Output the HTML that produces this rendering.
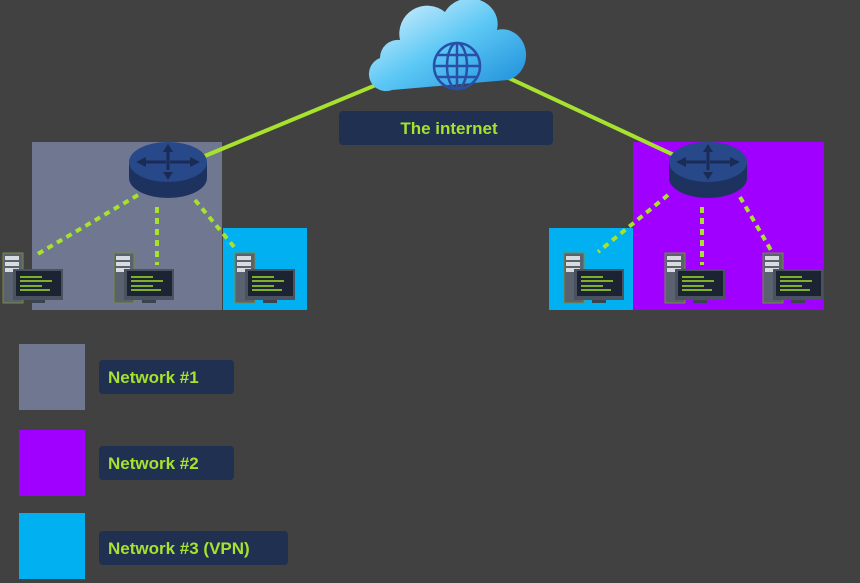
<!DOCTYPE html>
<html><head><style>body{margin:0;background:#414141}svg{display:block}</style></head><body>
<svg width="860" height="583" viewBox="0 0 860 583" xmlns="http://www.w3.org/2000/svg" font-family="Liberation Sans, sans-serif">
<defs>
<linearGradient id="cl" x1="0" y1="0" x2="1" y2="1"><stop offset="0" stop-color="#e8f6ff"/><stop offset="0.5" stop-color="#5cc8f5"/><stop offset="1" stop-color="#1a8ad8"/></linearGradient>
<g id="pc">
<rect x="0" y="0" width="20" height="50" fill="#5a6270" stroke="#7a8a40" stroke-width="1"/>
<rect x="2" y="3" width="14" height="4" fill="#d8dce0"/><rect x="2" y="9" width="14" height="4" fill="#d8dce0"/><rect x="2" y="15" width="14" height="4" fill="#d8dce0"/>
<rect x="10" y="16" width="50" height="31" fill="#4a5260"/>
<rect x="13" y="18" width="45" height="25" fill="#1c2434"/>
<rect x="17" y="23" width="22" height="2" fill="#7fb02a"/><rect x="17" y="27" width="32" height="2" fill="#7fb02a"/><rect x="17" y="32" width="22" height="2" fill="#7fb02a"/><rect x="17" y="36" width="30" height="2" fill="#7fb02a"/>
<rect x="28" y="47" width="14" height="3" fill="#3a4250"/>
</g>
<g id="rt">
<path d="M-39 0 v16 a39 20 0 0 0 78 0 v-16 z" fill="#1e3260"/>
<ellipse cx="0" cy="0" rx="39" ry="20" fill="#27498a"/>
<path d="M0 -18 l-5 8 h3.5 v20 h3 v-20 h3.5z M0 18 l-5 -8 h3.5 v-2 h3 v2 h3.5z M-32 0 l10 -5 v3.5 h20 v3 h-20 v3.5z M32 0 l-10 -5 v3.5 h-20 v3 h20 v3.5z" fill="#1a2c55"/>
</g>
</defs>
<rect x="32" y="142" width="190" height="168" fill="#6f7890"/>
<rect x="223" y="228" width="84" height="82" fill="#00b0f0"/>
<rect x="549" y="228" width="84" height="82" fill="#00b0f0"/>
<rect x="633" y="142" width="191" height="168" fill="#a000ff"/>
<g stroke="#a6e22e" stroke-width="4">
<line x1="388" y1="80" x2="200" y2="158"/>
<line x1="500" y1="74" x2="676" y2="156"/>
</g>
<g stroke="#a6e22e" stroke-width="4" stroke-dasharray="6 5">
<line x1="138" y1="195" x2="36" y2="255"/>
<line x1="157" y1="207" x2="157" y2="265"/>
<line x1="195" y1="200" x2="235" y2="248"/>
<line x1="668" y1="195" x2="598" y2="252"/>
<line x1="702" y1="207" x2="702" y2="265"/>
<line x1="740" y1="197" x2="772" y2="252"/>
</g>
<use href="#rt" x="168" y="162"/>
<use href="#rt" x="708" y="162"/>
<use href="#pc" x="3" y="253"/><use href="#pc" x="114" y="253"/><use href="#pc" x="235" y="253"/>
<use href="#pc" x="564" y="253"/><use href="#pc" x="665" y="253"/><use href="#pc" x="763" y="253"/>
<path d="M392 90 a17 17 0 0 1 -12 -32 a18 18 0 0 1 20 -18 a28 28 0 0 1 45 -28 a28 26 0 0 1 52 18 a22 24 0 0 1 11 50 z" fill="url(#cl)"/>
<g stroke="#2850a8" stroke-width="2.5" fill="none">
<circle cx="457" cy="66" r="23"/><ellipse cx="457" cy="66" rx="10" ry="23"/>
<line x1="457" y1="43" x2="457" y2="89"/><line x1="434" y1="66" x2="480" y2="66"/>
<line x1="437" y1="55" x2="477" y2="55"/><line x1="437" y1="77" x2="477" y2="77"/>
</g>
<rect x="339" y="111" width="214" height="34" rx="4" fill="#1f3050"/>
<text x="449" y="134" text-anchor="middle" fill="#a6e22e" font-weight="bold" font-size="17">The internet</text>
<rect x="19" y="344" width="66" height="66" fill="#6f7890"/>
<rect x="19" y="430" width="66" height="66" fill="#a000ff"/>
<rect x="19" y="513" width="66" height="66" fill="#00b0f0"/>
<rect x="99" y="360" width="135" height="34" rx="4" fill="#1f3050"/>
<rect x="99" y="446" width="135" height="34" rx="4" fill="#1f3050"/>
<rect x="99" y="531" width="189" height="34" rx="4" fill="#1f3050"/>
<g fill="#a6e22e" font-weight="bold" font-size="17">
<text x="108" y="383">Network #1</text>
<text x="108" y="469">Network #2</text>
<text x="108" y="554">Network #3 (VPN)</text>
</g>
</svg>
</body></html>
